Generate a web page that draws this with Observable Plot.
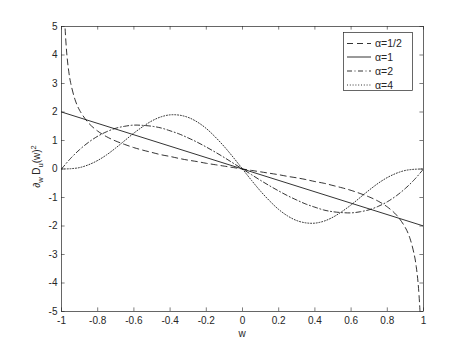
<!DOCTYPE html>
<html><head><meta charset="utf-8">
<script src="https://cdn.jsdelivr.net/npm/d3@7"></script>
<script src="https://cdn.jsdelivr.net/npm/@observablehq/plot@0.6"></script>
<style>body{margin:0;background:#fff} svg{display:block}</style>
</head><body><div id="chart"></div>
<script>
// x ticks / labels
const xTicks = [-1,-0.8,-0.6,-0.4,-0.2,0,0.2,0.4,0.6,0.8,1];
const xTickLabels = ["-1","-0.8","-0.6","-0.4","-0.2","0","0.2","0.4","0.6","0.8","1"];
const yTicks = [-5,-4,-3,-2,-1,0,1,2,3,4,5];
const yTickLabels = ["-5","-4","-3","-2","-1","0","1","2","3","4","5"];

const seriesNames = ["\u03b1=1/2","\u03b1=1","\u03b1=2","\u03b1=4"];

// common w grid
const wGrid = [-1,-0.95,-0.9,-0.85,-0.8,-0.75,-0.7,-0.65,-0.6,-0.55,-0.5,-0.45,-0.4,-0.35,-0.3,-0.25,-0.2,-0.15,-0.1,-0.05,0,
  0.05,0.1,0.15,0.2,0.25,0.3,0.35,0.4,0.45,0.5,0.55,0.6,0.65,0.7,0.75,0.8,0.85,0.9,0.95,1];

// alpha = 1/2 (own grid, denser near the ends)
const wHalf = [-0.99,-0.985,-0.98,-0.97,-0.96,-0.95,-0.925,-0.9,-0.85,-0.8,-0.75,-0.7,-0.65,-0.6,-0.55,-0.5,-0.45,-0.4,-0.35,-0.3,-0.25,-0.2,-0.15,-0.1,-0.05,0,
  0.05,0.1,0.15,0.2,0.25,0.3,0.35,0.4,0.45,0.5,0.55,0.6,0.65,0.7,0.75,0.8,0.85,0.9,0.925,0.95,0.96,0.97,0.98,0.985,0.99];
const yHalf = [7.02,5.71,4.92,3.99,3.43,3.04,2.43,2.06,1.61,1.33,1.13,0.98,0.86,0.75,0.66,0.58,0.50,0.44,0.37,0.31,0.26,0.20,0.15,0.10,0.05,0,
  -0.05,-0.10,-0.15,-0.20,-0.26,-0.31,-0.37,-0.44,-0.50,-0.58,-0.66,-0.75,-0.86,-0.98,-1.13,-1.33,-1.61,-2.06,-2.43,-3.04,-3.43,-3.99,-4.92,-5.71,-7.02];

// alpha = 1
const wOne = [-1,1];
const yOne = [2,-2];

// alpha = 2
const yTwo = [0,0.37,0.68,0.94,1.15,1.31,1.43,1.50,1.54,1.53,1.50,1.44,1.34,1.23,1.09,0.94,0.77,0.59,0.40,0.20,0,
  -0.20,-0.40,-0.59,-0.77,-0.94,-1.09,-1.23,-1.34,-1.44,-1.50,-1.53,-1.54,-1.50,-1.43,-1.31,-1.15,-0.94,-0.68,-0.37,0];

// alpha = 4
const yFour = [0,0.01,0.05,0.15,0.30,0.50,0.74,1.00,1.26,1.49,1.69,1.83,1.90,1.89,1.81,1.65,1.42,1.12,0.78,0.40,0,
  -0.40,-0.78,-1.12,-1.42,-1.65,-1.81,-1.89,-1.90,-1.83,-1.69,-1.49,-1.26,-1.00,-0.74,-0.50,-0.30,-0.15,-0.05,-0.01,0];

const toRows = (ws, ys) => ws.map((w, i) => ({w, y: ys[i]}));
const dHalf = toRows(wHalf, yHalf);
const dOne = toRows(wOne, yOne);
const dTwo = toRows(wGrid, yTwo);
const dFour = toRows(wGrid, yFour);

const W = 467, H = 350;
const mL = 61, mR = 44, mT = 26, mB = 39;
const fw = W - mL - mR, fh = H - mT - mB;
const ink = "#262626";
const dashes = ["6,4", null, "5,2.5,1,2.5", "1,1.8"];
const lineW = 0.8;
const tick = 3.6;

const chart = Plot.plot({
  width: W, height: H,
  marginLeft: mL, marginRight: mR, marginTop: mT, marginBottom: mB,
  style: {fontFamily: "'Liberation Sans', Arial, Helvetica, sans-serif", fontSize: "10px", color: ink, background: "#fff"},
  x: {domain: [-1, 1]},
  y: {domain: [-5, 5]},
  marks: [
    Plot.line(dHalf, {x: "w", y: "y", stroke: "#000", strokeWidth: lineW, strokeDasharray: dashes[0], curve: "catmull-rom", clip: true}),
    Plot.line(dOne, {x: "w", y: "y", stroke: "#000", strokeWidth: lineW, clip: true}),
    Plot.line(dTwo, {x: "w", y: "y", stroke: "#000", strokeWidth: lineW, strokeDasharray: dashes[2], curve: "catmull-rom", clip: true}),
    Plot.line(dFour, {x: "w", y: "y", stroke: "#000", strokeWidth: lineW, strokeDasharray: dashes[3], curve: "catmull-rom", clip: true}),
    // inward ticks on all four sides
    Plot.gridX(xTicks, {stroke: ink, strokeOpacity: 1, strokeWidth: 0.6, insetTop: fh - tick}),
    Plot.gridX(xTicks, {stroke: ink, strokeOpacity: 1, strokeWidth: 0.6, insetBottom: fh - tick}),
    Plot.gridY(yTicks, {stroke: ink, strokeOpacity: 1, strokeWidth: 0.6, insetRight: fw - tick}),
    Plot.gridY(yTicks, {stroke: ink, strokeOpacity: 1, strokeWidth: 0.6, insetLeft: fw - tick}),
    Plot.axisX(xTicks, {anchor: "bottom", tickSize: 0, tickPadding: 5, tickFormat: (d, i) => xTickLabels[i], label: null}),
    Plot.axisY(yTicks, {anchor: "left", tickSize: 0, tickPadding: 4, tickFormat: (d, i) => yTickLabels[i], label: null}),
    Plot.frame({stroke: ink, strokeWidth: 0.7})
  ]
});

const svg = d3.select(chart);
const font = "'Liberation Sans', Arial, Helvetica, sans-serif";

// x label
svg.append("text")
  .attr("x", mL + fw / 2).attr("y", 336.5)
  .attr("text-anchor", "middle")
  .attr("font-family", font).attr("font-size", 10).attr("fill", ink)
  .text("w");

// y label with sub/superscripts
const yl = svg.append("text")
  .attr("transform", `translate(40,${mT + fh / 2 - 2}) rotate(-90)`)
  .attr("text-anchor", "middle")
  .attr("font-family", font).attr("font-size", 10).attr("fill", ink);
yl.append("tspan").text("\u2202");
yl.append("tspan").attr("font-size", 7.5).attr("dy", 2.5).text("w");
yl.append("tspan").attr("dy", -2.5).text(" D");
yl.append("tspan").attr("font-size", 7.5).attr("dy", 2.5).text("u");
yl.append("tspan").attr("dy", -2.5).text("(w)");
yl.append("tspan").attr("font-size", 7.5).attr("dy", -4).text("2");

// legend
const lg = svg.append("g");
lg.append("rect").attr("x", 343.5).attr("y", 32.5).attr("width", 69).attr("height", 58)
  .attr("fill", "#fff").attr("stroke", ink).attr("stroke-width", 0.7);
const rowsY = [43.5, 57, 71, 85];
seriesNames.forEach((name, i) => {
  lg.append("line").attr("x1", 347).attr("x2", 371).attr("y1", rowsY[i]).attr("y2", rowsY[i])
    .attr("stroke", "#000").attr("stroke-width", lineW)
    .attr("stroke-dasharray", dashes[i]);
  lg.append("text").attr("x", 375).attr("y", rowsY[i]).attr("dy", "0.35em")
    .attr("text-anchor", "start")
    .attr("font-family", font).attr("font-size", 10.5).attr("fill", ink)
    .text(name);
});

document.getElementById("chart").appendChild(chart);
</script>
</body></html>
